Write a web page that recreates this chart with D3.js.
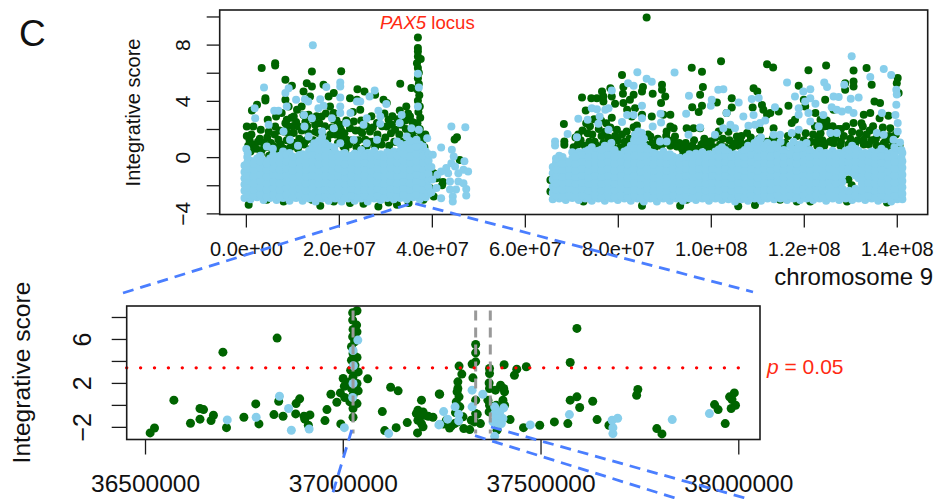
<!DOCTYPE html>
<html>
<head>
<meta charset="utf-8">
<script src="https://cdn.jsdelivr.net/npm/d3@7"></script>
<style>
  html, body { margin: 0; padding: 0; background: #fff; }
  svg { display: block; }
  text { font-family: "Liberation Sans", Arial, sans-serif; fill: #111; }
</style>
</head>
<body>
<div id="chart"></div>
<script>
// ---- chromosome 9 overview, x in Mb, y integrative score ----
var topXTicks = [0, 20, 40, 60, 80, 100, 120, 140];
var topXTickLabels = ["0.0e+00", "2.0e+07", "4.0e+07", "6.0e+07", "8.0e+07", "1.0e+08", "1.2e+08", "1.4e+08"];
var topYTicks = [-4, -2, 0, 2, 4, 6, 8, 10];
var topYLabelled = [-4, 0, 4, 8];

var topGreenLeft = [[0.6,-3.39],[0.2,2.18],[1.6,2.18],[3.2,1.94],[3.4,6.33],[6.3,6.68],[6.3,6.52],[8.5,5.5],[9.9,5.07],[14.2,6.09],[20.5,6.11],[24,4.83],[25.5,4.67],[4.2,4.19],[4.2,4.03],[2.4,3.72],[1.3,3.32],[4.7,2.65],[6.5,2.89],[6.3,2.18],[8.5,4.08],[9.2,3.6],[7.7,3.13],[8.8,2.65],[8.1,1.82],[7,1.23],[6,0.76],[13.1,5.26],[14.2,5.02],[12.4,4.67],[13.8,4.31],[16.7,5.14],[17.8,4.31],[18.9,4.55],[18.1,3.6],[16.3,2.89],[18.9,3.13],[20.3,2.3],[20.3,1.47],[11,3.36],[12,3.6],[10.3,2.89],[11.3,2.18],[10.3,1.71],[13.5,3.01],[14.9,2.3],[15.6,1.71],[22.4,4.19],[23.9,4.08],[24.6,3.36],[23.2,2.54],[22.4,2.06],[25,1.71],[21.7,1.23],[21,0.76],[27.8,4.43],[29.6,4.08],[30.3,3.84],[30.7,2.65],[30.3,2.18],[28.2,2.42],[26.7,1.82],[25.7,1.23],[33.2,5.21],[35.6,4.91],[34.5,3.6],[33.1,3.32],[35.3,2.89],[32.1,1.94],[36.1,2.42]];
var topGreenPeak = [[37,8.51],[37,7.75],[37,7.51],[37,7.16],[37.6,6.97],[36.8,6.68],[37,6.33],[37.2,6],[37,5.6],[37.2,5.2],[36.9,4.8],[37.3,4.4],[37,4],[37.4,3.6],[37.1,3.2],[37.5,2.8],[36.9,2.4],[37.4,2],[37.7,1.6]];
var topGreenEdge = [[16,-3.46],[14.2,-3.03],[28.5,-3.51],[32.5,-3.39],[18.9,-3.15],[22.4,-3.27],[25.3,-3.32],[8.1,-3.15],[4.5,-3.03],[38.2,-3.03],[30.7,-3.22],[35,-3.27],[85.2,-3.46],[93.4,-3.46],[105.9,-3.5],[109.5,-3.4],[114.9,-3.03],[118.5,-3.15],[121.4,-3.15],[129.3,-3.15],[137.9,-3.22],[72.6,-3.15],[65.5,-1.62],[65.5,-2.44],[100.2,-2.68],[94.8,-3.03],[133.6,-2.3],[129.6,-1.6],[130.3,-2],[130.9,-2.3]];
var topGreenMassLeft = [[0.2,1.5],[0.8,1.2],[1.5,0.9],[2.2,0.6],[3,1.3],[3.8,1],[4.6,1.4],[5.4,1],[6.2,1.6],[7.5,0.9],[8.8,1.2],[9.6,0.7],[10.5,1],[11.5,1.3],[12.5,0.9],[13.5,1.7],[14.5,1.2],[15.5,0.8],[16.5,1.6],[17.5,1.2],[18.5,2.1],[19.3,1.6],[21.4,0.5],[22.8,1.2],[23.8,0.7],[24.5,1.9],[26,0.8],[27.2,1.1],[28.3,1.6],[29.2,0.9],[30,1.4],[31.2,1.7],[32.4,1.1],[33.4,2.3],[34,0.8],[35.2,1.9],[36,1.4],[37.2,1.2],[38.4,0.7],[3.2,0.2],[5,0.1],[7,0.3],[1,0.4],[9,2.2],[12.8,2.5],[15.2,2.9],[19.5,2.6],[27,2.9],[31.5,2.9],[34.3,2.6],[37.6,0.6],
  [0.5,0.8],[1.2,1.6],[2.6,1.1],[3.4,0.5],[4.2,0.7],[4.9,1.8],[5.7,0.5],[6.9,0.7],[7.2,1.9],[8.2,0.6],[8.5,2.4],[9.2,1.7],[9.8,2.8],[10.1,2.2],[10.8,2.5],[11.2,0.6],[12,1.9],[12.4,3],[13,1.2],[13.2,2.2],[14,0.6],[14.4,2.7],[15,1.8],[15.8,2.4],[16.2,0.9],[17,2.2],[17.2,3.1],[17.9,0.7],[18.2,1.6],[18.8,2.7],[19.8,1],[20.5,1.9],[21.2,1.7],[21.6,2.6],[22.2,0.9],[23,3.2],[23.6,1.9],[24.2,1.2],[24.8,2.6],[25.4,0.6],[25.9,2.2],[26.6,1.1],[27.3,2.1],[27.8,0.7],[28.7,1.1],[29.3,2.2],[29.8,3.1],[30.8,0.8],[31.4,2.3],[31.9,1.1],[32.6,2.7],[33,1.6],[33.7,1.1],[34.4,2],[34.9,3.1],[35.6,1],[35.8,2.5],[36.4,1.9],[36.7,0.9],[38,1.2],[38.6,1.6]];
var topGreenFar = [[45.4,1.42],[44.9,1.25],[40.4,-1.14],[42.4,-1.77],[40.4,-2.8],[42.2,-2],[46,-0.2],[39.6,-2.2],[41,-1.5]];
var topGreenRight = [[86.2,9.93],[102.2,6.82],[112.1,6.61],[113.4,6.37],[121,6.18],[124.8,6.52],[130.7,6.16],[133.5,6.33],[95.9,6.35],[98.1,6.07],[80.9,5.83],[140.2,5.62],[140,5.26],[130.7,5.38],[130.7,5.02],[128.9,5.26],[128.9,4.79],[134.6,5.14],[118.9,5.07],[109.2,4.9],[110,4.67],[98.3,4.98],[89.5,5.14],[85.4,4.98],[81.2,4.98],[89.5,4.79],[87.5,4.5],[90.2,4.31],[89.3,3.84],[85.2,4.67],[83.4,4.43],[81.1,4.5],[76.6,4.67],[78.4,4.9],[76.9,4.31],[75.5,4.19],[74.3,4.19],[72.3,4.24],[78.7,4.31],[79.4,3.79],[76.9,3.96],[73.1,3.32],[78.7,2.8],[68.4,2.35],[68.5,1.11],[68.5,0.88],[81.2,3.84],[82.6,4.08],[83.7,3.48],[82,3.36],[83,2.89],[85.2,3.01],[87.3,2.89],[84.1,2.25],[83.4,2.13],[79.8,1.94],[81.9,1.82],[87,1.47],[91.3,3.01],[89.8,3.01],[91.3,2.18],[92,2.06],[90.5,1.82],[92.3,1.47],[94.8,2.06],[96.3,2.06],[97.7,2.06],[96,3.55],[98.1,3.65],[97.4,3.2],[97.7,4.43],[104.5,4.19],[104.5,3.53],[101.3,3.88],[102,2.54],[103.4,3.13],[101.7,1.82],[99.9,1.11],[98.4,0.99],[94.1,0.28],[95.6,0.52],[92.7,0.76],[109,3.53],[111,3.7],[111.3,3.36],[112.8,3.13],[114.6,3.25],[112.1,3.01],[116.7,3.65],[118.1,2.65],[117.4,2.42],[120,4.08],[120.3,3.6],[122.5,3.13],[123.6,2.65],[124.3,2.18],[124.6,4.08],[126.4,3.36],[123.2,1.47],[122.8,1.11],[126.4,0.99],[130.7,2.42],[132.9,3.01],[134.3,3.13],[132.7,2.18],[132.9,1.23],[135.2,3.96],[136.4,3.84],[136.3,2.77],[138.2,2.94],[138.6,2.06],[140.4,4.55],[137.2,0.99],[136.4,0.76],[107.8,1.71],[106.3,1.23],[105.2,0.99],[107.4,0.88],[105.6,1.47],[110.6,1.94],[113.5,2.06]];
var topGreenMassRight = [[70.5,0.7],[72,1.2],[73.5,1.7],[75,1.1],[76.5,1.5],[78,0.9],[80,1.2],[82,0.8],[84,1.1],[86,0.9],[88,0.7],[90,1],[92,0.9],[96,0.8],[98,0.9],[100,1.1],[102,0.9],[104,1.2],[106,0.8],[108,1],[110,0.8],[112,1.1],[114,0.7],[116,1],[118,0.9],[120,1.2],[122,1.6],[124,1.2],[126,1.6],[128,1.1],[130,1.3],[132,1.7],[134,0.9],[135.5,1.3],[137.5,1.1],[139,1.2],[74,2.2],[71.5,1.6],[77.5,2.4],[125.2,2.2],[128,2],[134.2,1.9],
  [70.9,1.4],[71.4,0.9],[72.4,1.9],[72.9,0.8],[73.2,2.4],[73.9,1.1],[74.5,1.6],[74.9,2.7],[75.5,0.8],[75.9,2],[76.4,2.6],[76.9,1],[77.3,1.8],[77.9,1.4],[78.4,2.1],[78.9,0.8],[79.4,1.5],[80.5,0.7],[80.9,1.6],[81.5,1.1],[82.5,1.3],[83.1,0.7],[83.8,1.6],[84.8,0.8],[85.5,1.3],[86.5,1.6],[87.4,1],[88.6,1.3],[89.3,0.8],[90.4,1.5],[91.3,0.8],[91.8,1.2],[93.2,1],[93.8,0.6],[94.6,1],[95.2,0.7],[96.4,1.2],[97.2,0.6],[98.6,1.3],[99.3,0.7],[100.6,0.7],[101,1.4],[102.6,1.3],[103.1,0.7],[103.8,1.8],[104.6,0.7],[106.6,1.5],[107.2,0.7],[108.6,1.4],[109.3,0.7],[110.4,1.3],[111.2,0.7],[112.8,0.7],[113.3,1.3],[114.5,1.2],[115.2,0.6],[116.6,1.5],[117.4,0.8],[118.5,1.5],[119.2,0.8],[120.4,1.7],[120.9,0.8],[121.6,1.1],[122.4,2.2],[122.9,0.8],[123.6,1.7],[124.4,0.8],[124.9,2.6],[125.6,1.1],[126.2,2.2],[126.8,1.4],[127.4,2],[127.9,0.8],[128.6,1.5],[129.1,2.2],[129.6,0.9],[130.4,1.8],[131,0.9],[131.6,1.2],[132.4,2.4],[132.9,0.9],[133.5,1.6],[134.6,1.2],[134.9,2.2],[135.7,0.8],[136.4,1.6],[137,2.1],[137.8,0.7],[138.4,1.5],[139.2,0.8],[139.8,1.6],[140.6,0.8]];

var topBlueLeft = [[14.4,7.96],[3.9,4.95],[1.9,3.48],[2,2.77],[6.1,3.29],[7,3.29],[8.8,3.6],[8.5,4.55],[9.2,4.9],[10.8,4.08],[12.7,4.12],[13.4,3.96],[16,4.12],[17.3,4.98],[20.3,5.3],[20.3,5.02],[20.3,4.24],[20.3,3.6],[20.3,3.13],[15.6,3.48],[16.7,3.65],[23.9,3.96],[24.6,3.96],[26.6,4.31],[27.7,4.74],[30.2,3.77],[28.5,3.29],[28.9,2.89],[22.5,3.13],[12.5,3],[14.2,2.77],[12.6,2.18],[18.5,2.77],[18.9,2.06],[26,2.77],[25.3,2.3],[28.9,2.37],[21.6,2.42],[4.9,2.3],[0.1,0.57],[0.4,0.28],[4.5,0.76],[37,5.92],[37.2,4.95],[37,3.6],[33.5,3],[33.1,2.42],[35.6,2.06],[37.2,1.94],[39,1.35],[8.1,1.82],[9.5,1.23],[13.5,1.47],[16.4,1.82],[17.1,0.99],[14.7,0.99],[20.3,0.99],[23.2,1.23],[26,0.99],[28.2,1.23],[32.5,1.11],[34.6,1.47],[36.7,1.23],[38.1,0.76],[5.8,0.6],[11.2,0.8],[19,0.7]];
var topBlueFar = [[40.2,0.17],[42,0.69],[44.2,2.18],[47.2,2.13],[44.3,0.52],[44.7,0.05],[42,-1.02],[41.2,-1.26],[43.1,-0.78],[44.2,-0.43],[43.5,-1.14],[45,-0.66],[46.8,-0.9],[43.9,-1.73],[45.7,-1.73],[46.8,-1.85],[42,-2.92],[44.5,-2.8],[44.5,-3.15],[47.4,-2.27],[47.4,-2.73],[43.9,-2.3],[45.7,-1.14],[47.8,-1.02],[41,-2.2],[45.2,-2.3],[47,-0.3],[39.9,-0.7],[40.1,-1.6],[39.9,-2.5]];
var topBlueRight = [[130.3,7.18],[137.2,6.26],[138.8,5.83],[84.2,6.04],[92.2,6.02],[87.3,5.36],[86.2,5.57],[82.2,5.26],[83.4,5.07],[78.7,4.74],[95.3,4.36],[100.2,4.08],[100,3.65],[101.6,4.79],[102.7,4.83],[106,3.89],[108.8,4.13],[110.3,4.2],[109.2,3],[107,2.89],[113.8,3.55],[116.4,5.31],[124.4,5.31],[125,4.98],[128.7,5.14],[119.9,4.67],[121.4,4.83],[121.4,4.19],[120.3,3.96],[118.1,4.31],[122.5,3.79],[126.4,4.31],[127.5,4.27],[130.1,4.15],[131.8,4.24],[134.3,5.69],[139.9,4.79],[140,4.45],[139.9,3.72],[139.7,3],[136.8,3.13],[140.2,2.42],[140.2,1.82],[140.7,1.04],[118.9,3.48],[118.9,3.01],[121,3.13],[124.2,3],[126,3.55],[127.1,3.36],[128.2,3.25],[129.6,3.36],[130.7,3.13],[121.4,2.54],[117.4,1.71],[118.9,1.94],[123.2,2.18],[125.7,1.71],[127.1,1.71],[135.7,1.71],[137.2,1.59],[139.3,1.23],[94.7,3.08],[89.2,3.08],[85.2,3.65],[82,3],[83.4,3],[85.2,2.77],[80.9,2.49],[89.3,2.46],[87.5,2.18],[71.5,2.73],[73.5,2.65],[74.4,3.48],[75.5,3.41],[77.3,3.36],[78,3.48],[76.1,2.89],[75.8,2.37],[69.2,1.64],[71.2,1.42],[66.5,1.11],[66.5,0.83],[97.7,2.11],[95.2,1.59],[100.9,1.59],[103.4,3.13],[102.7,2.06],[104.2,2.3],[105.2,2.06],[108.1,2.23],[109.5,2.3],[111.7,2.61],[110.6,2.42],[113.5,1.59],[114.9,1.59],[78,1.94],[84.4,1.82],[85.2,1.71],[83.7,1.59],[89.1,1.11],[90.5,1.11]];
// solid light blue band, each row is a chromosome position (Mb) then the scores stacked there
var topBandLeft = [
  [-0.3,-2.9,-2.4,-1.95,-1.5,-1.05,-0.6],[1,-3,-2.55,-2.1,-1.6,-1.15,-0.7,-0.25],[2.4,-2.85,-2.4,-1.9,-1.45,-1,-0.55,-0.1],[3.8,-3.05,-2.6,-2.1,-1.65,-1.2,-0.7,-0.25],[5.2,-2.9,-2.45,-1.95,-1.5,-1.05,-0.6,-0.1],
  [6.6,-3.05,-2.55,-2.1,-1.6,-1.15,-0.7,-0.2],[8,-2.9,-2.4,-1.95,-1.5,-1,-0.55,0,0.4],[9.4,-3.1,-2.6,-2.15,-1.65,-1.2,-0.7,-0.25,0.3],[10.8,-2.9,-2.45,-1.95,-1.5,-1.05,-0.55,-0.1],[12.2,-3.1,-2.6,-2.1,-1.65,-1.2,-0.7,-0.25,0.2],
  [13.6,-2.95,-2.45,-2,-1.5,-1.05,-0.55,-0.1,0.45],[15,-3.15,-2.65,-2.15,-1.7,-1.2,-0.75,-0.25,0.3,0.85],[16.4,-2.95,-2.5,-2,-1.55,-1.05,-0.6,-0.1,0.4,0.9,1.4],[17.8,-3.1,-2.6,-2.15,-1.65,-1.2,-0.7,-0.25,0.3,0.8],[19.2,-2.95,-2.45,-2,-1.5,-1.05,-0.55,-0.1,0.35],
  [20.6,-3.15,-2.65,-2.2,-1.7,-1.25,-0.75,-0.3,0.2],[22,-2.95,-2.5,-2,-1.55,-1.05,-0.6,-0.1],[23.4,-3.1,-2.6,-2.15,-1.65,-1.2,-0.7,-0.25,0.25],[24.8,-2.95,-2.45,-2,-1.5,-1.05,-0.55,-0.1,0.5],[26.2,-3.15,-2.65,-2.15,-1.7,-1.2,-0.75,-0.25,0.3],
  [27.6,-2.95,-2.5,-2,-1.55,-1.05,-0.6,-0.1,0.45],[29,-3.05,-2.6,-2.1,-1.65,-1.15,-0.7,-0.2,0.2],[30.4,-2.9,-2.45,-1.95,-1.5,-1,-0.55,-0.1,0.35],[31.8,-3,-2.55,-2.05,-1.6,-1.1,-0.65,-0.15,0.4],[33.2,-2.9,-2.45,-1.95,-1.5,-1.05,-0.55,-0.1,0.45,0.95],
  [34.6,-3,-2.55,-2.1,-1.6,-1.15,-0.65,-0.2,0.3,0.9],[36,-2.85,-2.4,-1.95,-1.45,-1,-0.5,-0.05,0.45,1],[37.4,-3,-2.5,-2.05,-1.55,-1.1,-0.6,-0.15,0.35,0.9],[38.7,-2.85,-2.4,-1.9,-1.45,-0.95,-0.5,0,0.4]
];
var topBandLeftFill = [
  [0.3,-2.7,-2.2,-1.7,-1.3,-0.85,-0.4,0],[1.7,-2.75,-2.3,-1.85,-1.35,-0.9,-0.45],[3.1,-2.65,-2.15,-1.7,-1.25,-0.75,-0.3,0.1],[4.5,-2.8,-2.3,-1.85,-1.4,-0.9,-0.45],[5.9,-2.7,-2.2,-1.75,-1.25,-0.8,-0.35,0.15],
  [7.3,-2.8,-2.3,-1.85,-1.35,-0.9,-0.4,0.1],[8.7,-2.7,-2.2,-1.75,-1.3,-0.8,-0.3,0.15],[10.1,-2.85,-2.35,-1.9,-1.4,-0.95,-0.45,0.05],[11.5,-2.7,-2.25,-1.75,-1.3,-0.85,-0.35,0.15],[12.9,-2.85,-2.35,-1.85,-1.4,-0.9,-0.45,0.1],
  [14.3,-2.75,-2.25,-1.75,-1.3,-0.85,-0.35,0.15,0.7],[15.7,-2.9,-2.4,-1.9,-1.45,-0.95,-0.5,0,0.55,1.15],[17.1,-2.75,-2.3,-1.8,-1.35,-0.85,-0.4,0.1,0.6],[18.5,-2.85,-2.35,-1.9,-1.4,-0.95,-0.45,0.05],[19.9,-2.7,-2.25,-1.75,-1.3,-0.8,-0.35,0.1],
  [21.3,-2.9,-2.4,-1.9,-1.45,-1,-0.5,0,0.3],[22.7,-2.75,-2.25,-1.8,-1.3,-0.85,-0.35,0.1],[24.1,-2.85,-2.35,-1.9,-1.4,-0.95,-0.45,0.05],[25.5,-2.75,-2.3,-1.8,-1.35,-0.85,-0.4,0.1],[26.9,-2.85,-2.4,-1.9,-1.45,-0.95,-0.5,0.05],
  [28.3,-2.75,-2.25,-1.8,-1.3,-0.85,-0.35,0.1],[29.7,-2.85,-2.35,-1.85,-1.4,-0.9,-0.45,0],[31.1,-2.7,-2.25,-1.75,-1.3,-0.8,-0.35,0.15],[32.5,-2.8,-2.3,-1.85,-1.35,-0.9,-0.4,0.1],[33.9,-2.7,-2.2,-1.75,-1.25,-0.8,-0.3,0.2,0.7],
  [35.3,-2.8,-2.3,-1.85,-1.35,-0.9,-0.4,0.05,0.6,1.15],[36.7,-2.65,-2.2,-1.7,-1.25,-0.75,-0.3,0.2,0.75],[38.1,-2.75,-2.3,-1.8,-1.35,-0.85,-0.4,0.1,0.6],[39.3,-2.6,-2.15,-1.65,-1.2,-0.7,-0.25,0.2]
];
var topBandRight = [
  [66,-3,-2.55,-2.1,-1.6,-1.15,-0.7],[67.4,-2.95,-2.45,-2,-1.5,-1.05,-0.6,-0.15,0.1],[68.8,-3.05,-2.6,-2.1,-1.65,-1.2,-0.7,-0.3],[70.2,-2.9,-2.45,-2,-1.5,-1.05,-0.6,-0.1,0.35],[71.6,-3.05,-2.55,-2.1,-1.6,-1.15,-0.7,-0.2,0.35],
  [73,-2.95,-2.45,-2,-1.5,-1.05,-0.55,-0.1,0.4],[74.4,-3.1,-2.6,-2.15,-1.65,-1.2,-0.7,-0.25,0.3,0.7],[75.8,-2.95,-2.5,-2,-1.55,-1.05,-0.6,-0.1,0.45],[77.2,-3.1,-2.6,-2.15,-1.65,-1.2,-0.7,-0.25,0.35,0.8],[78.6,-2.95,-2.45,-2,-1.5,-1.05,-0.55,-0.1,0.5,1],
  [80,-3.05,-2.6,-2.1,-1.65,-1.2,-0.7,-0.25,0.2],[81.4,-2.95,-2.45,-2,-1.5,-1.05,-0.55,-0.1,0.4],[82.8,-3.1,-2.6,-2.15,-1.65,-1.2,-0.7,-0.25,0.3,0.8],[84.2,-2.95,-2.5,-2,-1.55,-1.05,-0.6,-0.1,0.45,1,1.5],[85.6,-3.15,-2.65,-2.15,-1.7,-1.2,-0.75,-0.25,0.3,0.8,1.3],
  [87,-2.95,-2.45,-2,-1.5,-1.05,-0.55,-0.1,0.35],[88.4,-3.15,-2.6,-2.15,-1.65,-1.2,-0.7,-0.25,0.2],[89.8,-2.95,-2.5,-2,-1.55,-1.05,-0.6,-0.1,0.4],[91.2,-3.1,-2.6,-2.15,-1.65,-1.2,-0.7,-0.25,0.2],[92.6,-2.95,-2.45,-2,-1.5,-1.05,-0.55,-0.1],
  [94,-3.1,-2.6,-2.1,-1.65,-1.15,-0.7,-0.2],[95.4,-2.95,-2.5,-2,-1.55,-1.05,-0.6,-0.1,0.2],[96.8,-3.05,-2.6,-2.15,-1.65,-1.2,-0.7,-0.25,0.25],[98.2,-2.95,-2.45,-2,-1.5,-1.05,-0.55,-0.1,0.35],[99.6,-3.1,-2.6,-2.1,-1.65,-1.15,-0.7,-0.2,0.2],
  [101,-2.95,-2.5,-2,-1.55,-1.05,-0.6,-0.1,0.4],[102.4,-3.05,-2.6,-2.15,-1.65,-1.2,-0.7,-0.25,0.25,0.7],[103.8,-3,-2.5,-2.05,-1.55,-1.1,-0.6,-0.15,0.35],[105.2,-3.15,-2.65,-2.2,-1.7,-1.25,-0.75,-0.3,0.2],[106.6,-3,-2.5,-2.05,-1.55,-1.1,-0.6,-0.15,0.35],
  [108,-3.1,-2.6,-2.15,-1.65,-1.2,-0.7,-0.25,0.25,0.8],[109.4,-2.95,-2.5,-2,-1.55,-1.05,-0.6,-0.1,0.4,1],[110.8,-3.1,-2.65,-2.15,-1.7,-1.2,-0.75,-0.25,0.3,0.9,1.4],[112.2,-2.95,-2.5,-2,-1.55,-1.05,-0.6,-0.1,0.45,1],[113.6,-3,-2.55,-2.1,-1.6,-1.15,-0.7,-0.2,0.3,0.9],
  [115,-2.95,-2.45,-2,-1.5,-1.05,-0.55,-0.1,0.45,1.1],[116.4,-3.05,-2.6,-2.1,-1.65,-1.2,-0.7,-0.25,0.3],[117.8,-2.95,-2.5,-2,-1.55,-1.05,-0.6,-0.1,0.5,1.1],[119.2,-3.05,-2.6,-2.15,-1.65,-1.2,-0.7,-0.25,0.35,0.9],[120.6,-2.95,-2.45,-2,-1.5,-1.05,-0.55,-0.1,0.45,1],
  [122,-3.05,-2.6,-2.1,-1.65,-1.2,-0.7,-0.25,0.3],[123.4,-2.95,-2.5,-2,-1.55,-1.05,-0.6,-0.1,0.45],[124.8,-3.1,-2.6,-2.15,-1.65,-1.2,-0.7,-0.25,0.3],[126.2,-2.95,-2.45,-2,-1.5,-1.05,-0.55,-0.1,0.45],[127.6,-3.05,-2.6,-1.9,-1.65,-1.2,-0.7,-0.25,0.3],
  [129,-2.95,-2.5,-1.05,-0.6,-0.1,0.45],[130.4,-3.05,-2.6,-1.1,-0.7,-0.25,0.3,0.8],[131.8,-2.95,-2.45,-1.5,-1.05,-0.55,-0.1,0.45],[133.2,-3.05,-2.6,-2.15,-1.65,-1.2,-0.7,-0.25,0.3],[134.6,-2.95,-2.5,-2,-1.55,-1.05,-0.6,-0.1,0.4],
  [136,-3.1,-2.6,-2.15,-1.65,-1.2,-0.7,-0.25,0.35],[137.4,-3,-2.5,-2.05,-1.55,-1.1,-0.6,-0.15,0.4],[138.8,-3.15,-2.65,-2.2,-1.7,-1.25,-0.75,-0.3,0.3],[140.1,-3,-2.5,-2.05,-1.55,-1.1,-0.6,-0.15,0.45],[141,-2.85,-2.4,-1.9,-1.45,-1,-0.5,-0.05,0.5]
];
var topBandRightFill = [
  [66.7,-2.75,-2.3,-1.85,-1.35,-0.9,-0.4,-0.1],[68.1,-2.8,-2.3,-1.85,-1.4,-0.9,-0.45,0],[69.5,-2.75,-2.25,-1.8,-1.35,-0.85,-0.4],[70.9,-2.85,-2.35,-1.9,-1.4,-0.95,-0.45,0.05],[72.3,-2.75,-2.25,-1.8,-1.3,-0.85,-0.35,0.15],
  [73.7,-2.85,-2.4,-1.9,-1.45,-0.95,-0.5,0,0.5],[75.1,-2.75,-2.25,-1.8,-1.35,-0.85,-0.4,0.1],[76.5,-2.85,-2.35,-1.9,-1.4,-0.95,-0.45,0.05,0.55],[77.9,-2.75,-2.3,-1.8,-1.35,-0.85,-0.35,0.15,0.7],[79.3,-2.85,-2.35,-1.9,-1.4,-0.95,-0.45,0.05,0.5],
  [80.7,-2.75,-2.25,-1.8,-1.3,-0.85,-0.35,0.15],[82.1,-2.85,-2.4,-1.9,-1.45,-0.95,-0.5,0,0.5],[83.5,-2.75,-2.3,-1.8,-1.35,-0.85,-0.4,0.1,0.65,1.2],[84.9,-2.9,-2.4,-1.95,-1.45,-1,-0.5,0.05,0.6,1.15],[86.3,-2.75,-2.25,-1.8,-1.3,-0.85,-0.35,0.15,0.6],
  [87.7,-2.9,-2.4,-1.9,-1.45,-0.95,-0.5,0,0.3],[89.1,-2.75,-2.3,-1.8,-1.35,-0.85,-0.4,0.1],[90.5,-2.85,-2.35,-1.9,-1.4,-0.95,-0.45,0.05],[91.9,-2.75,-2.25,-1.8,-1.3,-0.85,-0.35,0.05],[93.3,-2.85,-2.35,-1.85,-1.4,-0.9,-0.45,-0.05],
  [94.7,-2.75,-2.3,-1.8,-1.35,-0.85,-0.4,0],[96.1,-2.85,-2.35,-1.9,-1.4,-0.95,-0.45,0.05],[97.5,-2.75,-2.25,-1.8,-1.3,-0.85,-0.35,0.1],[98.9,-2.85,-2.35,-1.85,-1.4,-0.9,-0.45,0.05],[100.3,-2.75,-2.3,-1.8,-1.35,-0.85,-0.4,0.1],
  [101.7,-2.85,-2.35,-1.9,-1.4,-0.95,-0.45,0.05,0.55],[103.1,-2.75,-2.25,-1.8,-1.3,-0.85,-0.35,0.1,0.5],[104.5,-2.9,-2.4,-1.95,-1.45,-1,-0.5,0],[105.9,-2.75,-2.3,-1.8,-1.35,-0.85,-0.4,0.1],[107.3,-2.85,-2.35,-1.9,-1.4,-0.95,-0.45,0.05,0.5],
  [108.7,-2.75,-2.25,-1.8,-1.3,-0.85,-0.35,0.15,0.7],[110.1,-2.85,-2.4,-1.9,-1.45,-0.95,-0.5,0,0.6,1.2],[111.5,-2.75,-2.3,-1.8,-1.35,-0.85,-0.4,0.1,0.7],[112.9,-2.8,-2.3,-1.85,-1.35,-0.9,-0.45,0.05,0.6],[114.3,-2.7,-2.25,-1.75,-1.3,-0.8,-0.35,0.15,0.7],
  [115.7,-2.85,-2.35,-1.85,-1.4,-0.9,-0.45,0.05,0.5],[117.1,-2.75,-2.25,-1.8,-1.3,-0.85,-0.35,0.2,0.8],[118.5,-2.85,-2.35,-1.9,-1.4,-0.95,-0.45,0.05,0.6],[119.9,-2.7,-2.25,-1.75,-1.3,-0.8,-0.35,0.15,0.7],[121.3,-2.85,-2.35,-1.85,-1.4,-0.9,-0.45,0.05,0.5],
  [122.7,-2.75,-2.25,-1.8,-1.3,-0.85,-0.35,0.15],[124.1,-2.85,-2.35,-1.9,-1.4,-0.95,-0.45,0.05],[125.5,-2.75,-2.25,-1.75,-1.3,-0.8,-0.35,0.15],[126.9,-2.8,-2.3,-1.85,-1.4,-0.95,-0.45,0.05],[128.3,-2.75,-2.25,-1.75,-1.3,-0.85,-0.35,0.15],
  [129.7,-2.85,-2.4,-0.85,-0.35,0.1,0.55],[131.1,-2.75,-2.25,-1.3,-0.8,-0.35,0.15,0.6],[132.5,-2.85,-2.35,-1.9,-1.4,-0.9,-0.45,0.05],[133.9,-2.75,-2.25,-1.8,-1.3,-0.85,-0.35,0.15],[135.3,-2.85,-2.35,-1.9,-1.4,-0.95,-0.45,0.05],
  [136.7,-2.75,-2.3,-1.8,-1.35,-0.85,-0.4,0.1,0.6],[138.1,-2.9,-2.4,-1.95,-1.45,-1,-0.5,0],[139.5,-2.75,-2.25,-1.8,-1.3,-0.85,-0.35,0.15,0.7],[141.2,-3,-2.6,-2.15,-1.7,-1.25,-0.75,-0.3,0.3]
];

// ---- PAX5 zoom, x in kb, y integrative score ----
var lowXTicks = [36500, 37000, 37500, 38000];
var lowXTickLabels = ["36500000", "37000000", "37500000", "38000000"];
var lowYTicks = [-2, 0, 2, 4, 6, 8];
var lowYLabelled = [-2, 2, 6];
var pThreshold = 3.37;
var guideLines = [37026, 37336, 37373];

var lowGreen = [[36513,-2.55],[36524,-2.1],[36573,0.43],[36615,-1.67],[36639,-1.3],[36639,-0.33],[36648,-0.43],[36673,-0.94],[36667,-1.43],[36697,4.8],[36706,-2.07],[36750,-1.12],[36780,0.09],[36788,-1.73],[36826,-0.88],[36834,6.08],[36838,0.33],[36849,-1.03],[36882,0.12],[36891,0.55],[36881,-0.82],[36902,-1.03],[36917,-0.91],[36904,-1.3],[36913,-1.85],[36955,-1.43],[36960,-0.43],[36970,0.97],[36985,0.24],[36995,-1.73],[36994,1.09],[37005,0.67],[37004,1.7],[37001,2.4],[37063,2.37],[37121,1.61],[37140,1.28],[37100,-0.61],[37106,-2.34],[37135,-2.07],[37163,-1.61]];
var lowGreenPeak = [[37025,8.39],[37036,8.57],[37025,7.72],[37035,7.26],[37026,6.87],[37036,6.65],[37025,6.2],[37030,5.74],[37022,5.3],[37026,4.68],[37036,4.32],[37022,4.07],[37031,3.62],[37020,3.16],[37039,3],[37026,2.55],[37018,2.1],[37036,1.95],[37022,1.49],[37039,1.28],[37026,0.88],[37018,0.27],[37036,0.12],[37026,-0.33],[37026,-1.12]];
var lowGreenMid = [[37199,0.43],[37190,-0.49],[37203,-0.64],[37186,-0.79],[37195,-1.09],[37207,-0.94],[37190,-1.4],[37199,-1.7],[37228,-1.12],[37203,-2],[37189,-2.55],[37216,-1.03],[37244,1],[37294,3.53],[37301,2.8],[37291,2.1],[37291,1.49],[37289,1.19],[37294,0.73],[37287,0.27],[37296,-0.18],[37283,-1.7],[37291,-1.55],[37306,-2.16],[37321,-2.25],[37245,0.97],[37262,-1.4],[37304,-1.09],[37275,-1.9],[37285,-0.7],[37255,-1.75],[37270,-2.1]];
var lowGreenRight = [[37336,5.5],[37336,4.74],[37336,3.92],[37327,3.71],[37329,2.46],[37336,0.43],[37336,-0.79],[37340,-0.85],[37325,-1.4],[37333,-1.55],[37348,-1.7],[37371,3.31],[37371,2.86],[37370,2],[37371,1.49],[37367,0.43],[37371,-0.03],[37370,-0.64],[37408,3.65],[37440,3.25],[37434,2.7],[37464,3.47],[37399,1.79],[37407,1.49],[37409,1.19],[37386,1.34],[37405,0.43],[37388,-0.03],[37409,-0.03],[37423,-1.34],[37390,-2.3],[37457,-2.07],[37498,-1.85],[37535,-1.55],[37569,-1.7],[37575,3.86],[37592,6.96],[37575,0.43],[37592,0.73],[37599,-0.24],[37632,0.33],[37643,-1.34],[37673,-1.85],[37746,1.4],[37743,0.88],[37794,-2.16],[37807,-2.64],[37940,0.03],[37949,-0.43],[37967,-1.7],[37990,1.09],[37978,0.73],[37984,0.49],[37993,-0.03],[37982,-0.33]];
var lowBlue = [[36840,0.79],[36863,-0.33],[36708,-1.37],[36781,-1.12],[36870,-2.31],[36915,-2.19],[37004,-2.07],[37038,5.9],[37026,4.95],[37027,3.56],[37026,1.95],[37025,0.67],[37116,-2.61],[37255,-0.61],[37265,-1.3],[37243,-1.82],[37284,-0.18],[37293,-0.85],[37293,-1.46],[37327,1.34],[37354,0.97],[37327,-0.18],[37384,-0.18],[37407,-0.27],[37384,-0.79],[37397,-0.64],[37388,-1.25],[37401,-1.7],[37380,-1.55],[37393,-1.7],[37405,-1.25],[37384,-2.86],[37474,-1.82],[37573,-0.88],[37681,-1.4],[37695,-1.22],[37683,-2.07],[37683,-2.61],[37833,-1.34],[37927,-0.79],[37245,-1.76]];

var width = 938, height = 499;
var green = "#006400", blue = "#87ceeb", red = "#ff2a12", connector = "#4a7eff";

var svg = d3.select("#chart").append("svg")
    .attr("width", width)
    .attr("height", height);

// top panel
var xTop = d3.scaleLinear().domain([-5.63, 146.65]).range([219.7, 927.7]);
var yTop = d3.scaleLinear().domain([-4.08, 10.46]).range([214.5, 10]);

// lower panel
var xLow = d3.scaleLinear().domain([36453.7, 38054.9]).range([126.7, 760]);
var yLow = d3.scaleLinear().domain([-3.15, 9.0]).range([439.5, 306]);

function band(columns) {
  var out = [];
  columns.forEach(function(c) {
    c.slice(1).forEach(function(v) { out.push([c[0], v]); });
  });
  return out;
}

function dots(data, x, y, fill, r) {
  svg.append("g").selectAll("circle")
    .data(data)
    .join("circle")
      .attr("cx", function(d) { return x(d[0]); })
      .attr("cy", function(d) { return y(d[1]); })
      .attr("r", r)
      .attr("fill", fill);
}

function box(x, y) {
  svg.append("rect")
    .attr("x", x.range()[0])
    .attr("y", y.range()[1])
    .attr("width", x.range()[1] - x.range()[0])
    .attr("height", y.range()[0] - y.range()[1])
    .attr("fill", "none")
    .attr("stroke", "#1a1a1a")
    .attr("stroke-width", 1.6);
}

function axes(x, y, xTicks, xLabels, yTicks, yLabelled, tick, xSize, ySize, xPad, yPad) {
  var bottom = d3.axisBottom(x).tickValues(xTicks).tickSize(tick).tickPadding(xPad)
    .tickFormat(function(d, i) { return xLabels[i]; });
  var gx = svg.append("g")
    .attr("transform", "translate(0," + y.range()[0] + ")")
    .call(bottom);
  gx.select(".domain").remove();
  gx.selectAll("line").attr("stroke", "#1a1a1a").attr("stroke-width", 1.3);
  gx.selectAll("text").attr("font-size", xSize).style("font-family", "Liberation Sans");

  var left = d3.axisLeft(y).tickValues(yTicks).tickSize(tick).tickPadding(yPad)
    .tickFormat(function(d) { return yLabelled.indexOf(d) >= 0 ? String(d).replace("-", "\u2212") : ""; });
  var gy = svg.append("g")
    .attr("transform", "translate(" + x.range()[0] + ",0)")
    .call(left);
  gy.select(".domain").remove();
  gy.selectAll("line").attr("stroke", "#1a1a1a").attr("stroke-width", 1.3);
  gy.selectAll("text")
    .attr("font-size", ySize)
    .style("font-family", "Liberation Sans")
    .attr("text-anchor", "middle")
    .attr("x", 0)
    .attr("y", 0)
    .attr("dy", 0)
    .attr("transform", "translate(" + (-tick - yPad) + ",0) rotate(-90)");
}

// top points
[topGreenMassLeft, topGreenMassRight, topGreenLeft, topGreenPeak, topGreenEdge, topGreenFar, topGreenRight].forEach(function(s) {
  dots(s, xTop, yTop, green, 4);
});
[band(topBandLeft), band(topBandLeftFill), band(topBandRight), band(topBandRightFill), topBlueLeft, topBlueFar, topBlueRight].forEach(function(s) {
  dots(s, xTop, yTop, blue, 4);
});
box(xTop, yTop);
axes(xTop, yTop, topXTicks, topXTickLabels, topYTicks, topYLabelled, 13, 20, 21, 14, 17);

// lower points
[lowGreen, lowGreenPeak, lowGreenMid, lowGreenRight].forEach(function(s) {
  dots(s, xLow, yLow, green, 4.5);
});
dots(lowBlue, xLow, yLow, blue, 4.5);

// dashed guides over the points
svg.append("g").selectAll("line")
  .data(guideLines)
  .join("line")
    .attr("x1", function(d) { return xLow(d); })
    .attr("x2", function(d) { return xLow(d); })
    .attr("y1", yLow(8.6))
    .attr("y2", yLow(-2.6))
    .attr("stroke", "#999")
    .attr("stroke-width", 3)
    .attr("stroke-dasharray", "10 7");

svg.append("line")
  .attr("x1", xLow.range()[0])
  .attr("x2", 752)
  .attr("y1", yLow(pThreshold))
  .attr("y2", yLow(pThreshold))
  .attr("stroke", "#f00")
  .attr("stroke-width", 3.4)
  .attr("stroke-linecap", "round")
  .attr("stroke-dasharray", "0 13.9");

box(xLow, yLow);
axes(xLow, yLow, lowXTicks, lowXTickLabels, lowYTicks, lowYLabelled, 15, 24.5, 25, 20, 21);

// connectors between the panels
var connectors = [
  [[123, 293], [413, 203], [753, 292]],
  [[351.7, 430], [331, 499]],
  [[475, 435.7], [675, 498]],
  [[491, 427], [745, 498]]
];
svg.append("g").selectAll("path")
  .data(connectors)
  .join("path")
    .attr("d", d3.line())
    .attr("fill", "none")
    .attr("stroke", connector)
    .attr("stroke-width", 2.8)
    .attr("stroke-dasharray", "11 7");

// text
svg.append("text").attr("x", 19).attr("y", 46).attr("font-size", 37).text("C");

svg.append("text")
  .attr("transform", "translate(139.5,112.5) rotate(-90)")
  .attr("text-anchor", "middle")
  .attr("font-size", 20)
  .text("Integrative score");

svg.append("text")
  .attr("transform", "translate(30,372.5) rotate(-90)")
  .attr("text-anchor", "middle")
  .attr("font-size", 24.6)
  .text("Integrative score");

svg.append("text")
  .attr("x", 933).attr("y", 285)
  .attr("text-anchor", "end")
  .attr("font-size", 24)
  .text("chromosome 9");

var locus = svg.append("text")
  .attr("x", 380).attr("y", 29)
  .attr("font-size", 18.6)
  .style("fill", red);
locus.append("tspan").attr("font-style", "italic").text("PAX5");
locus.append("tspan").text(" locus");

var pLabel = svg.append("text")
  .attr("x", 767).attr("y", 374)
  .attr("font-size", 21)
  .style("fill", red);
pLabel.append("tspan").attr("font-style", "italic").text("p");
pLabel.append("tspan").text(" = 0.05");
</script>
</body>
</html>
